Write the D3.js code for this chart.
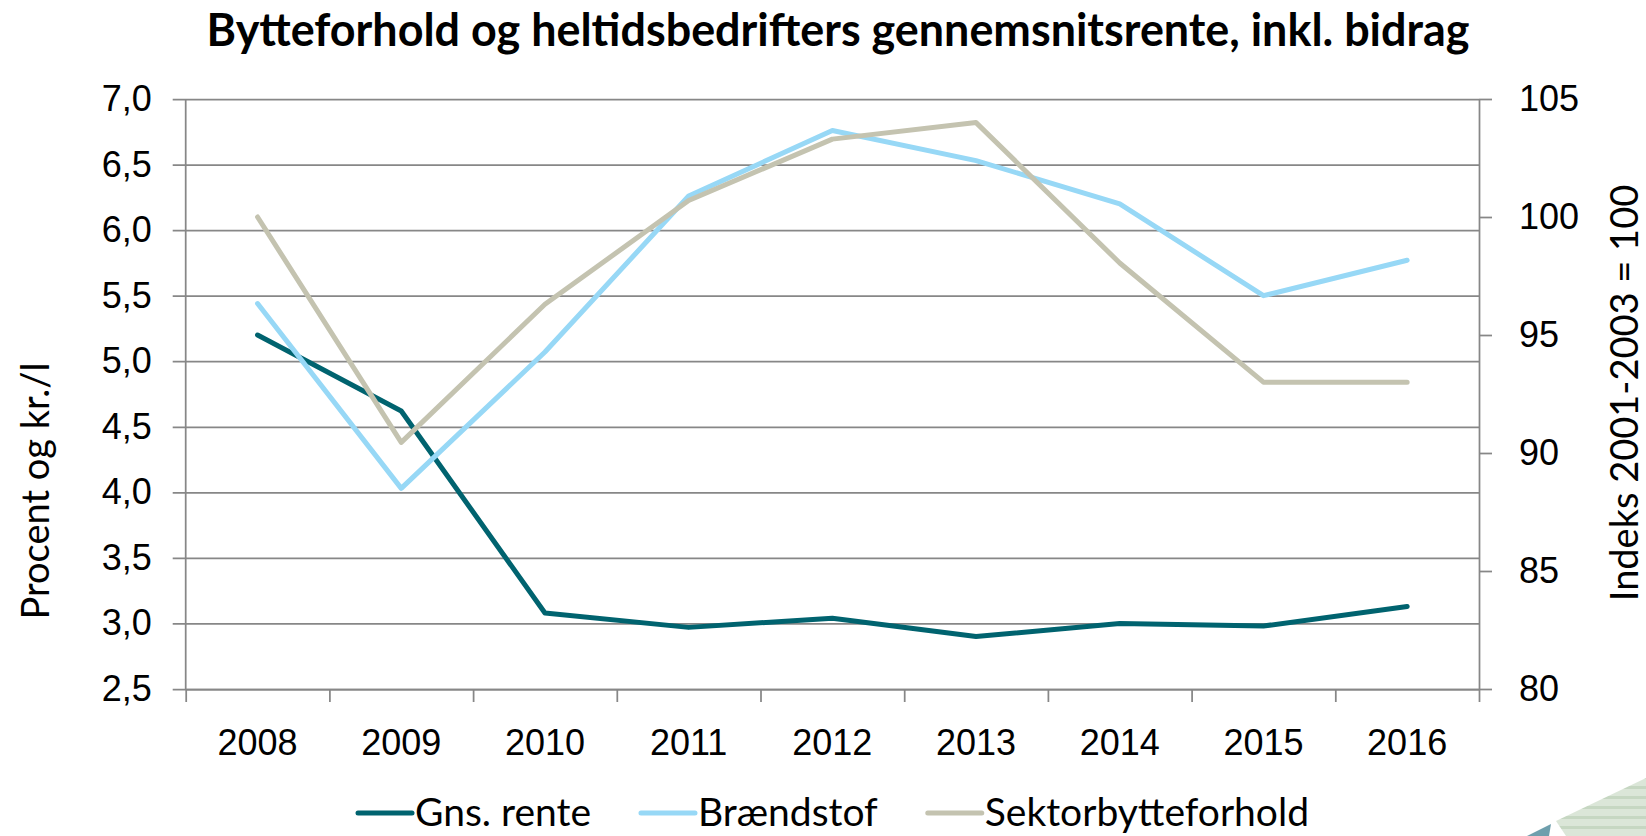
<!DOCTYPE html>
<html>
<head>
<meta charset="utf-8">
<script src="https://cdn.jsdelivr.net/npm/d3@7/dist/d3.min.js"></script>
<style>
  body { margin: 0; background: #fff; }
  svg { display: block; font-family: Lato, "Open Sans", sans-serif; }
  .axis text { fill: #000; font-size: 36px; }
  .axis line, .axis path { stroke: #878787; stroke-width: 1.75; }
  .series { fill: none; stroke-width: 5; stroke-linecap: round; stroke-linejoin: round; }
</style>
</head>
<body>
<div id="chart"></div>
<script>
// values
const years = [2008, 2009, 2010, 2011, 2012, 2013, 2014, 2015, 2016];
const rente = [5.20, 4.62, 3.08, 2.97, 3.04, 2.90, 3.00, 2.98, 3.13];
const braendstof = [5.44, 4.03, 5.07, 6.26, 6.76, 6.53, 6.20, 5.50, 5.77];
const sektor = [100.0, 90.45, 96.3, 100.7, 103.3, 104.0, 98.05, 93.0, 93.0];

const leftTicks = [2.5, 3.0, 3.5, 4.0, 4.5, 5.0, 5.5, 6.0, 6.5, 7.0];
const rightTicks = [80, 85, 90, 95, 100, 105];

const title = 'Bytteforhold og heltidsbedrifters gennemsnitsrente, inkl. bidrag';
const leftTitle = 'Procent og kr./l';
const rightTitle = 'Indeks 2001-2003 = 100';

const series = [
  { name: 'Gns. rente', values: rente, axis: 'left', color: '#00636f' },
  { name: 'Brændstof', values: braendstof, axis: 'left', color: '#97d8f6' },
  { name: 'Sektorbytteforhold', values: sektor, axis: 'right', color: '#c4c3b0' },
];

const W = 1646, H = 836;
const margin = { top: 99, left: 185.7, right: 167, bottom: 147 };
const iw = W - margin.left - margin.right;
const ih = H - margin.top - margin.bottom;
const TICK = 13;

const svg = d3.select('#chart').append('svg').attr('width', W).attr('height', H);
const g = svg.append('g').attr('transform', `translate(${margin.left},${margin.top})`);

const x = d3.scaleBand().domain(years).range([0, iw]).padding(0);
const xb = d3.scaleLinear().domain([0, years.length]).range([0, iw]);
const yL = d3.scaleLinear().domain([2.5, 7]).range([ih, 0]);
const yR = d3.scaleLinear().domain([80, 105]).range([ih, 0]);

// title, squeezed to the width it has in the reference
const t = svg.append('text')
  .attr('x', 838).attr('y', 46)
  .attr('text-anchor', 'middle')
  .attr('font-weight', 700)
  .attr('font-size', 36)
  .text(title);
const tw = t.node().getComputedTextLength();
t.attr('font-size', 36 * 1263 / tw);

// left axis + gridlines (ticks stick out 13px to the left)
const left = g.append('g').attr('class', 'axis').attr('transform', `translate(${-TICK},0)`)
  .call(d3.axisLeft(yL).tickValues(leftTicks).tickSize(-(iw + TICK)).tickPadding(21)
    .tickFormat((d) => d3.format('.1f')(d).replace('.', ',')));
left.select('.domain').remove();

g.append('line')
  .attr('x1', 0).attr('x2', 0).attr('y1', 0).attr('y2', ih)
  .attr('stroke', '#878787').attr('stroke-width', 1.75);

// right axis
g.append('g').attr('class', 'axis').attr('transform', `translate(${iw},0)`)
  .call(d3.axisRight(yR).tickValues(rightTicks).tickSize(TICK).tickPadding(27).tickSizeOuter(0));

// x axis: ticks at category boundaries, labels centred in the bands
g.append('g').attr('class', 'axis').attr('transform', `translate(0,${ih})`)
  .call(d3.axisBottom(xb).tickValues(d3.range(years.length + 1)).tickSize(TICK).tickFormat('').tickSizeOuter(0));
const xl = g.append('g').attr('class', 'axis').attr('transform', `translate(0,${ih})`)
  .call(d3.axisBottom(x).tickSize(0).tickPadding(40));
xl.select('.domain').remove();

// axis titles
svg.append('text')
  .attr('transform', `translate(49,491) rotate(-90)`)
  .attr('text-anchor', 'middle').attr('font-size', 38)
  .text(leftTitle);
svg.append('text')
  .attr('transform', `translate(1638,393) rotate(-90)`)
  .attr('text-anchor', 'middle').attr('font-size', 38)
  .text(rightTitle);

// lines
series.forEach((s) => {
  const yS = s.axis === 'left' ? yL : yR;
  const line = d3.line()
    .x((d, i) => x(years[i]) + x.bandwidth() / 2)
    .y((d) => yS(d));
  g.append('path').attr('class', 'series').attr('stroke', s.color).attr('d', line(s.values));
});

// legend
const legend = svg.append('g').attr('class', 'legend');
let lx = 358;
series.forEach((s) => {
  legend.append('line')
    .attr('x1', lx).attr('x2', lx + 54).attr('y1', 813).attr('y2', 813)
    .attr('stroke', s.color).attr('stroke-width', 5).attr('stroke-linecap', 'round');
  const txt = legend.append('text').attr('x', lx + 57).attr('y', 826).attr('font-size', 39).text(s.name);
  lx += 57 + txt.node().getComputedTextLength() + 50;
});

// corner decoration (cut-off logo in the reference)
const defs = svg.append('defs');
const pat = defs.append('pattern').attr('id', 'stripes').attr('patternUnits', 'userSpaceOnUse')
  .attr('width', 10).attr('height', 10);
pat.append('rect').attr('width', 10).attr('height', 10).attr('fill', '#dbe6d8');
pat.append('rect').attr('y', 6).attr('width', 10).attr('height', 3).attr('fill', '#c6d7c2');
svg.append('polygon').attr('points', '1556,821 1646,778 1646,836 1566,836').attr('fill', 'url(#stripes)');
svg.append('polygon').attr('points', '1527,836 1551,824 1549,836').attr('fill', '#6e9fad');
</script>
</body>
</html>
